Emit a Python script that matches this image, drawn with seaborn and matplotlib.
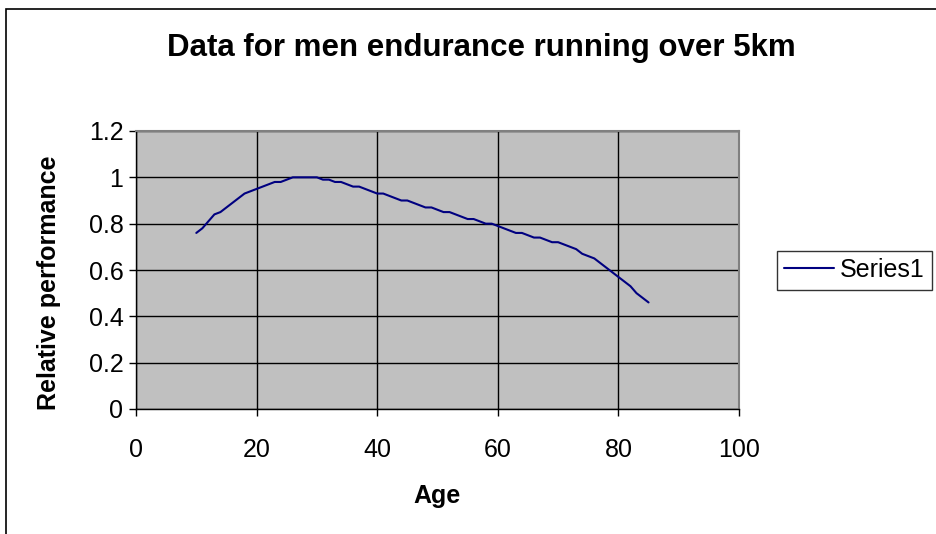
import matplotlib
matplotlib.use("Agg")
import matplotlib.pyplot as plt
import seaborn as sns
import pandas as pd
from matplotlib.patches import Rectangle

# age-graded relative performance, men 5km
ages = list(range(10, 86))
performance = [
    0.76, 0.78, 0.81, 0.84, 0.85, 0.87, 0.89, 0.91, 0.93, 0.94,   # 10-19
    0.95, 0.96, 0.97, 0.98, 0.98, 0.99, 1.00, 1.00, 1.00, 1.00,   # 20-29
    1.00, 0.99, 0.99, 0.98, 0.98, 0.97, 0.96, 0.96, 0.95, 0.94,   # 30-39
    0.93, 0.93, 0.92, 0.91, 0.90, 0.90, 0.89, 0.88, 0.87, 0.87,   # 40-49
    0.86, 0.85, 0.85, 0.84, 0.83, 0.82, 0.82, 0.81, 0.80, 0.80,   # 50-59
    0.79, 0.78, 0.77, 0.76, 0.76, 0.75, 0.74, 0.74, 0.73, 0.72,   # 60-69
    0.72, 0.71, 0.70, 0.69, 0.67, 0.66, 0.65, 0.63, 0.61, 0.59,   # 70-79
    0.57, 0.55, 0.53, 0.50, 0.48, 0.46,                           # 80-85
]
series_name = "Series1"
x_ticks = [0, 20, 40, 60, 80, 100]
y_ticks = [0, 0.2, 0.4, 0.6, 0.8, 1.0, 1.2]
y_tick_labels = ["0", "0.2", "0.4", "0.6", "0.8", "1", "1.2"]

df = pd.DataFrame({"Age": ages, "Relative performance": performance, "series": series_name})

sns.set_theme(style="white")
plt.rcParams["font.family"] = ["Liberation Sans", "DejaVu Sans"]
plt.rcParams["text.color"] = "black"
plt.rcParams["axes.labelcolor"] = "black"
plt.rcParams["xtick.color"] = "black"
plt.rcParams["ytick.color"] = "black"

W, H = 937, 534
fig = plt.figure(figsize=(W / 100, H / 100), dpi=100)
fig.patch.set_facecolor("white")

# outer chart frame
fig.patches.append(Rectangle((6.5 / W, 0 - 0.1), 1.2, 1 - 9 / H + 0.1,
                             transform=fig.transFigure, fill=False,
                             edgecolor="black", linewidth=1.2))

left, right, top, bottom = 136 / W, 739 / W, 1 - 131 / H, 1 - 409 / H
ax = fig.add_axes([left, bottom, right - left, top - bottom])
ax.set_facecolor("#C0C0C0")

sns.lineplot(data=df, x="Age", y="Relative performance", hue="series",
             palette=["#000080"], linewidth=1.5, ax=ax, legend=False)

ax.set_xlim(0, 100)
ax.set_ylim(0, 1.2)
ax.set_xticks(x_ticks)
ax.set_xticklabels([str(t) for t in x_ticks])
ax.set_yticks(y_ticks)
ax.set_yticklabels(y_tick_labels)
ax.grid(True, color="black", linewidth=1.0)
ax.set_axisbelow(True)

for side in ["top", "right"]:
    ax.spines[side].set_color("#808080")
    ax.spines[side].set_linewidth(1.5)
for side in ["left", "bottom"]:
    ax.spines[side].set_color("black")
    ax.spines[side].set_linewidth(1.0)

ax.tick_params(axis="both", direction="out", length=5, width=1, color="black",
               labelsize=18, bottom=True, left=True)
ax.tick_params(axis="x", pad=16)
ax.tick_params(axis="y", pad=4)

ax.set_xlabel("Age", fontsize=18, fontweight="bold", labelpad=16)
ax.set_ylabel("Relative performance", fontsize=18, fontweight="bold")
ax.yaxis.set_label_coords(-0.125, 0.453)

fig.text(481 / W, 1 - 48 / H, "Data for men endurance running over 5km",
         ha="center", va="center", fontsize=22.5, fontweight="bold")

handle = plt.Line2D([], [], color="#000080", linewidth=1.5)
leg = fig.legend([handle], [series_name], loc="center left",
                 bbox_to_anchor=(777 / W, 1 - 270 / H), fontsize=18,
                 frameon=True, fancybox=False, handlelength=2.0,
                 handletextpad=0.2, borderpad=0.3, borderaxespad=0)
leg.get_frame().set_edgecolor("black")
leg.get_frame().set_linewidth(1.0)

fig.savefig("out.png", dpi=100)
